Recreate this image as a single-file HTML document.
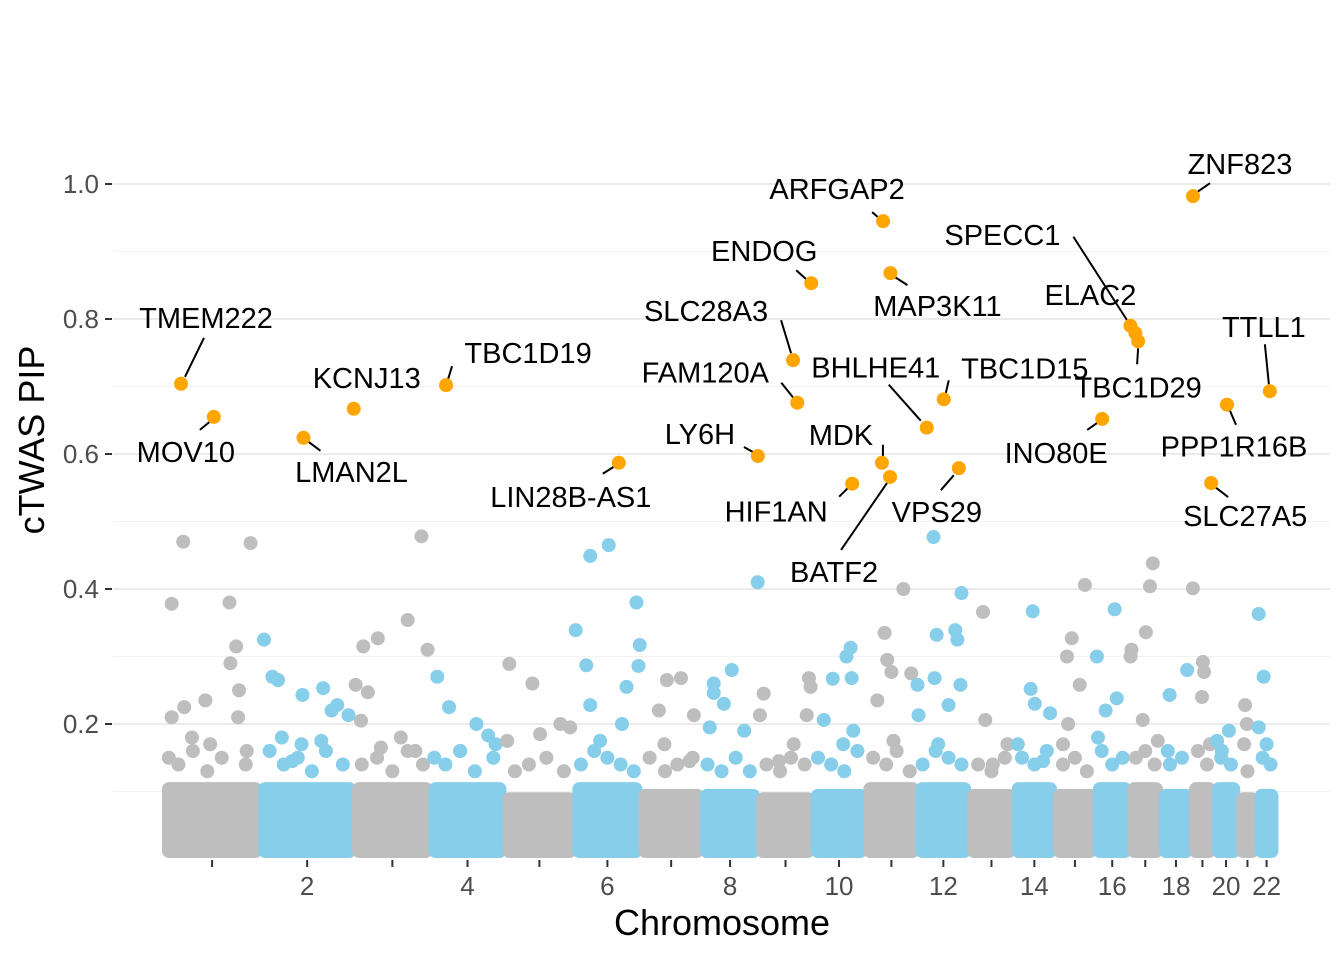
<!DOCTYPE html>
<html><head><meta charset="utf-8"><style>
body{margin:0;background:#fff;}
svg{display:block;font-family:"Liberation Sans",Arial,sans-serif;}
</style></head><body>
<svg id="chart" width="1344" height="960" viewBox="0 0 1344 960" xmlns="http://www.w3.org/2000/svg"></svg>
<script>
// ---- data ----
const chromLengths = [249,243,198,191,181,171,159,146,141,136,135,134,115,107,103,90,81,78,59,63,48,51];
const yTicks = [0.2,0.4,0.6,0.8,1.0];
const yTickLabels = ["0.2","0.4","0.6","0.8","1.0"];
const xTickChroms = [2,4,6,8,10,12,14,16,18,20,22];
const bandTop = [0.105,0.105,0.105,0.105,0.09,0.105,0.095,0.095,0.09,0.095,0.105,0.105,0.095,0.105,0.095,0.105,0.105,0.095,0.105,0.105,0.09,0.095];
// background points: chromosome, fraction along chromosome, PIP
const bgChrom = [1,1,1,1,1,1,1,1,1,1,1,1,1,1, 2,2,2,2,2,2,2,2,2,2,2,2, 3,3,3,3,3,3,3,3,3,3,3, 4,4,4,4,4,4, 5,5,5,5,5,5, 6,6,6,6,6,6,6,6,6,6,6, 7,7,7,7,7,7, 8,8,8,8,8,8,8, 9,9,9,9,9,9,9, 10,10,10,10,10,10,10, 11,11,11,11,11,11,11, 12,12,12,12,12,12,12,12,12,12,12, 13,13,13,13, 14,14,14,14,14,14, 15,15,15,15,15,15, 16,16,16,16,16, 17,17,17,17,17,17,17, 18,18,18, 19,19,19,19,19, 20,20,20, 21,21,21, 22,22,22,22];
const bgFrac = [.08,.2,.21,.43,.68,.69,.75,.78,.9,.77,.08,.29,.48,.86, .04,.13,.19,.45,.67,.76,.82,.94,.23,.44,.65,.34, .02,.12,.18,.31,.7,.88,.96,.09,.35,.61,.8, .09,.25,.62,.78,.4,.88, .07,.4,.04,.51,.8,.94, .02,.18,.24,.52,.79,.94,.99,.97,.72,.39,.24, .3,.43,.66,.87,.39,.8, .21,.21,.39,.53,.14,.75,.99, .1,.03,.65,.93,.96,.89,.38, .38,.64,.72,.74,.21,.77,.58, .37,.42,.5,.73,.88,.23,.54, .0,.02,.33,.31,.37,.73,.77,.85,.83,.6,.4, .31,.36,.53,.86, .46,.41,.51,.88,.1,.71, .3,.42,.62,.75,.33,.2, .06,.57,.31,.63,.09, .06,.03,.52,.65,.74,.42,.9, .29,.87,.23, .08,.52,.57,.48,.83, .33,.62,.13, .37,.47,.32, .1,.35,.1,.5];
const bgPip = [.378,.47,.225,.235,.38,.29,.315,.25,.468,.21,.21,.18,.17,.16, .325,.27,.265,.243,.253,.22,.228,.213,.18,.17,.175,.145, .258,.315,.247,.327,.354,.478,.31,.205,.165,.18,.16, .27,.225,.2,.183,.16,.17, .289,.26,.175,.185,.2,.195, .339,.287,.449,.465,.255,.38,.317,.286,.2,.175,.228, .22,.265,.268,.213,.17,.145, .26,.246,.23,.28,.195,.19,.41, .245,.213,.17,.268,.255,.213,.145, .267,.3,.313,.268,.206,.19,.17, .335,.295,.277,.4,.275,.235,.175, .258,.213,.268,.477,.332,.339,.325,.394,.258,.228,.17, .366,.206,.14,.17, .367,.252,.23,.216,.17,.145, .3,.327,.258,.406,.2,.17, .3,.37,.22,.238,.18, .31,.3,.336,.404,.438,.206,.175, .243,.28,.16, .401,.292,.277,.24,.17, .16,.19,.175, .228,.2,.17, .363,.27,.195,.17];
// additional low/mid points that make the ragged top of each band
const midChrom = [1,1,1,1,1,1,2,2,2,2,2,2,3,3,3,3,3,4,4,4,4,4,5,5,5,5,6,6,6,6,6,7,7,7,7,8,8,8,8,9,9,9,9,10,10,10,10,11,11,11,11,12,12,12,12,13,13,13,14,14,14,15,15,15,16,16,16,17,17,17,18,18,19,19,20,20,21,22,22];
const midFrac = [.05,.15,.3,.45,.6,.85,.1,.25,.4,.55,.7,.88,.1,.3,.5,.7,.9,.05,.2,.4,.6,.85,.15,.35,.6,.85,.1,.3,.5,.7,.9,.15,.4,.6,.85,.1,.35,.6,.85,.15,.4,.6,.85,.1,.35,.6,.85,.15,.4,.6,.85,.1,.35,.6,.85,.2,.5,.8,.2,.5,.8,.2,.5,.8,.2,.5,.8,.2,.5,.8,.3,.7,.3,.7,.3,.7,.5,.3,.7];
const midPip = [.15,.14,.16,.13,.15,.14,.16,.14,.15,.13,.16,.14,.14,.15,.13,.16,.14,.15,.14,.16,.13,.15,.13,.14,.15,.13,.14,.16,.15,.14,.13,.15,.13,.14,.15,.14,.13,.15,.13,.14,.13,.15,.14,.15,.14,.13,.16,.15,.14,.16,.13,.14,.16,.15,.14,.14,.13,.15,.15,.14,.16,.14,.15,.13,.16,.14,.15,.15,.16,.14,.14,.15,.16,.14,.15,.14,.13,.15,.14];
// highlighted genes
const hlGenes = ["TMEM222","MOV10","LMAN2L","KCNJ13","TBC1D19","LIN28B-AS1","LY6H","SLC28A3","FAM120A","ENDOG","HIF1AN","ARFGAP2","MDK","BATF2","MAP3K11","BHLHE41","TBC1D15","VPS29","INO80E","SPECC1","ELAC2","TBC1D29","ZNF823","SLC27A5","PPP1R16B","TTLL1"];
const hlChrom = [1,1,2,2,4,6,8,9,9,9,10,11,11,11,11,12,12,12,16,17,17,17,19,19,20,22];
const hlPos = [44,129,112,242,40,115,145,90,101,137,102,46,43,64,65,24,68,107,19,2,15,22,5,52,34,34];
const hlPip = [.704,.655,.624,.667,.702,.587,.597,.739,.676,.853,.556,.945,.587,.566,.868,.639,.681,.579,.652,.790,.779,.767,.982,.557,.673,.693];
// label layout (pixel offsets: label centre, leader line from / to)
const lblOff = [[25,-66],[-28,35],[48,34],[13,-31],[82,-32],[-48,34],[-58,-22],[-87,-49],[-92,-30],[-47,-32],[-76,28],[-46,-32],[-41,-28],[-56,95],[47,33],[-51,-60],[81,-31],[-22,44],[-46,34],[-128,-91],[-45,-38],[0,46],[47,-32],[34,33],[7,42],[-6,-64]];
const lineOff = [[4,-7,23,-46],[-14,13,-3,4],[5,4,17,13],null,[2,-6,6,-19],[-16,11,-5,4],[-14,-9,-5,-4],[-12,-40,-2,-7],[-16,-20,-4,-5],[-15,-13,-5,-4],[-13,13,-4,4],[-11,-9,-4,-3],[1,-18,1,-6],[-49,73,-3,6],[3,3,17,12],[-38,-43,-6,-7],[2,-6,5,-19],[-18,22,-5,7],[-15,11,-5,4],[-57,-89,-3,-5],null,[-1,23,0,7],[4,-4,17,-13],[4,4,17,14],[3,6,9,20],[-5,-47,-1,-7]];

// ---- scales ----
const chromStart=[];let acc=0;chromLengths.forEach(l=>{chromStart.push(acc);acc+=l;});
const X0=164,XS=0.3864;
function xPos(chr,pos){return X0+(chromStart[chr-1]+pos)*XS;}
function yPos(p){return 859-p*675;}
const svg=document.getElementById('chart');const NS='http://www.w3.org/2000/svg';
function mk(tag,attrs,parent){const e=document.createElementNS(NS,tag);for(const k in attrs)e.setAttribute(k,attrs[k]);(parent||svg).appendChild(e);return e;}
const colorOf=c=>c%2===0?'#87CEEB':'#BEBEBE';

// grid
const grid=mk('g',{});


[0.1,0.3,0.5,0.7,0.9].forEach(v=>{const l=mk('line',{x1:113,x2:1330,y1:yPos(v),y2:yPos(v),stroke:'#f2f2f2','stroke-width':1},grid);

});
yTicks.forEach((v,i)=>{const l=mk('line',{x1:113,x2:1330,y1:yPos(v),y2:yPos(v),stroke:'#ebebeb','stroke-width':2},grid);


const t=mk('line',{x1:105,x2:112,y1:yPos(v),y2:yPos(v),stroke:'#333','stroke-width':2});


const tx=mk('text',{x:99,y:yPos(v)+9,'text-anchor':'end','font-size':26,fill:'#4d4d4d'});tx.textContent=yTickLabels[i];

});

// chromosome bands (dense low-PIP points)
chromLengths.forEach((len,i)=>{const c=i+1;const x1=xPos(c,0)-2,x2=xPos(c,len)+2;
const r=mk('rect',{x:x1,y:yPos(bandTop[i])-6,width:x2-x1,height:858-yPos(bandTop[i])+6,rx:7,fill:colorOf(c)});

});

// mid points
midChrom.forEach((c,i)=>{const p=mk('circle',{cx:xPos(c,midFrac[i]*chromLengths[c-1]),cy:yPos(midPip[i]),r:7,fill:colorOf(c)});

});
// background points
bgChrom.forEach((c,i)=>{const p=mk('circle',{cx:xPos(c,bgFrac[i]*chromLengths[c-1]),cy:yPos(bgPip[i]),r:7,fill:colorOf(c)});

});

// x ticks
for(let c=1;c<=22;c++){const xc=xPos(c,chromLengths[c-1]/2);
const t=mk('line',{x1:xc,x2:xc,y1:860,y2:867,stroke:'#333','stroke-width':2});

}
xTickChroms.forEach(c=>{const xc=xPos(c,chromLengths[c-1]/2);
const tx=mk('text',{x:xc,y:895,'text-anchor':'middle','font-size':26,fill:'#4d4d4d'});tx.textContent=String(c);

});

// highlighted genes
hlGenes.forEach((g,i)=>{const px=xPos(hlChrom[i],hlPos[i]),py=yPos(hlPip[i]);
const lo=lineOff[i];
if(lo){const l=mk('line',{x1:px+lo[0],y1:py+lo[1],x2:px+lo[2],y2:py+lo[3],stroke:'#000','stroke-width':2});

}
const p=mk('circle',{cx:px,cy:py,r:7,fill:'#FFA500'});


const t=mk('text',{x:px+lblOff[i][0],y:py+lblOff[i][1]+10,'text-anchor':'middle','font-size':29,fill:'#000'});t.textContent=g;

});

// titles
const xt=mk('text',{x:722,y:935,'text-anchor':'middle','font-size':36,fill:'#000'});xt.textContent='Chromosome';


const yt=mk('text',{x:0,y:0,'text-anchor':'middle','font-size':36,fill:'#000',transform:'translate(44,440) rotate(-90)'});yt.textContent='cTWAS PIP';


</script>
</body></html>
